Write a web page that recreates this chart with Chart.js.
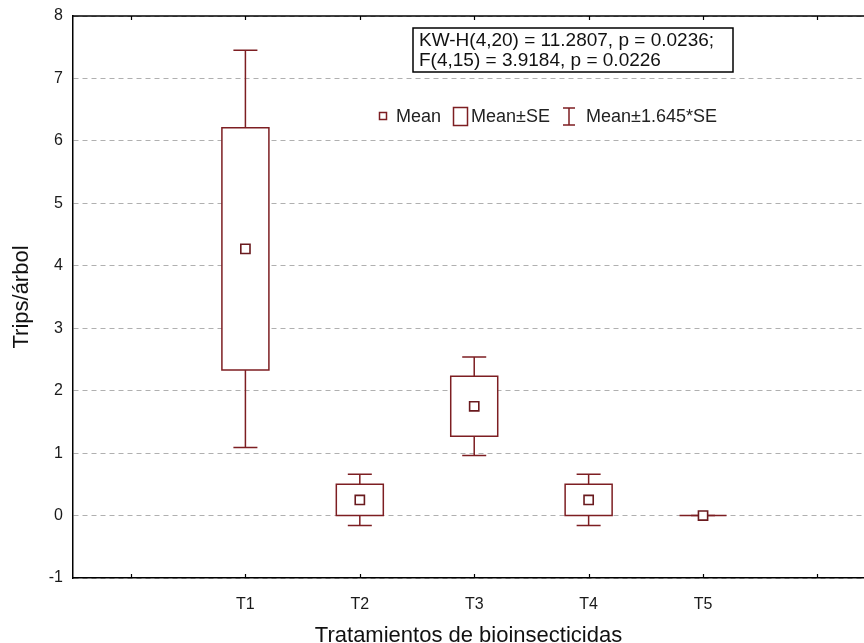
<!DOCTYPE html>
<html><head><meta charset="utf-8">
<script src="https://cdn.jsdelivr.net/npm/chart.js@4.4.1/dist/chart.umd.min.js"></script>
<style>html,body{margin:0;padding:0;background:#fff;}#wrap{width:864px;height:643px;position:relative;}</style>
</head><body>
<div id="wrap"><canvas id="c" width="864" height="643"></canvas></div>
<script>
const categories = ['T1', 'T2', 'T3', 'T4', 'T5'];
const means  = [4.27, 0.25, 1.75, 0.25, 0.00];
const seLow  = [2.33, 0.00, 1.27, 0.00, 0.00];
const seHigh = [6.21, 0.50, 2.23, 0.50, 0.00];
const ciLow  = [1.09, -0.16, 0.96, -0.16, 0.00];
const ciHigh = [7.45, 0.66, 2.54, 0.66, 0.00];
const yTickValues = [-1, 0, 1, 2, 3, 4, 5, 6, 7, 8];
const statsLines = ['KW-H(4,20) = 11.2807, p = 0.0236;', 'F(4,15) = 3.9184, p = 0.0226'];
const legendLabels = ['Mean', 'Mean±SE', 'Mean±1.645*SE'];
const xTitle = 'Tratamientos de bioinsecticidas';
const yTitle = 'Trips/árbol';

const MAROON = '#7d1e22';
const FONT = "'Liberation Sans', Arial, sans-serif";

const boxPlugin = {
  id: 'boxPlugin',
  beforeDatasetsDraw(chart) {
    const ctx = chart.ctx, xs = chart.scales.x, ys = chart.scales.y;
    ctx.save();
    ctx.strokeStyle = MAROON;
    ctx.lineWidth = 1.5;
    categories.forEach((c, i) => {
      const x = xs.getPixelForValue(i + 1);
      const halfBox = 23.5, halfCap = 12;
      const yCL = ys.getPixelForValue(ciLow[i]), yCH = ys.getPixelForValue(ciHigh[i]);
      const ySL = ys.getPixelForValue(seLow[i]), ySH = ys.getPixelForValue(seHigh[i]);
      ctx.beginPath();
      ctx.moveTo(x, yCH); ctx.lineTo(x, ySH);
      ctx.moveTo(x, ySL); ctx.lineTo(x, yCL);
      ctx.moveTo(x - halfCap, yCH); ctx.lineTo(x + halfCap, yCH);
      ctx.moveTo(x - halfCap, yCL); ctx.lineTo(x + halfCap, yCL);
      ctx.stroke();
      ctx.fillStyle = '#fff';
      ctx.fillRect(x - halfBox, ySH, 2 * halfBox, ySL - ySH);
      ctx.beginPath();
      if (ySL - ySH < 0.5) {
        ctx.moveTo(x - halfBox, ySH); ctx.lineTo(x + halfBox, ySH);
      } else {
        ctx.rect(x - halfBox, ySH, 2 * halfBox, ySL - ySH);
      }
      ctx.stroke();
    });
    ctx.restore();
  },
  afterDraw(chart) {
    const ctx = chart.ctx, a = chart.chartArea, xs = chart.scales.x;
    ctx.save();
    ctx.strokeStyle = '#000';
    ctx.lineWidth = 1.5;
    ctx.beginPath();
    ctx.moveTo(a.left, a.top); ctx.lineTo(a.right, a.top);
    ctx.stroke();
    ctx.lineWidth = 1.2;
    ctx.beginPath();
    for (let v = 0; v <= 6; v++) {
      const x = Math.round(xs.getPixelForValue(v)) + 0.5;
      ctx.moveTo(x, a.top); ctx.lineTo(x, a.top + 4);
      ctx.moveTo(x, a.bottom); ctx.lineTo(x, a.bottom - 4);
    }
    ctx.stroke();
    // stats box
    ctx.fillStyle = '#fff';
    ctx.fillRect(413, 28, 320, 44);
    ctx.lineWidth = 1.5;
    ctx.strokeRect(413, 28, 320, 44);
    ctx.fillStyle = '#111';
    ctx.font = '19px ' + FONT;
    ctx.textBaseline = 'middle';
    ctx.textAlign = 'left';
    ctx.fillText(statsLines[0], 419, 41);
    ctx.fillText(statsLines[1], 419, 61);
    // legend
    const ly = 116;
    ctx.strokeStyle = MAROON;
    ctx.lineWidth = 1.5;
    ctx.strokeRect(379.5, ly - 3.5, 7, 7);
    ctx.font = '18px ' + FONT;
    ctx.fillStyle = '#222';
    ctx.fillText(legendLabels[0], 396, ly + 1);
    ctx.strokeRect(453.5, 107.5, 14, 18);
    ctx.fillText(legendLabels[1], 471, ly + 1);
    ctx.beginPath();
    ctx.moveTo(569, 108); ctx.lineTo(569, 125);
    ctx.moveTo(563, 108); ctx.lineTo(575, 108);
    ctx.moveTo(563, 125); ctx.lineTo(575, 125);
    ctx.stroke();
    ctx.fillText(legendLabels[2], 586, ly + 1);
    ctx.restore();
  }
};

new Chart(document.getElementById('c'), {
  type: 'scatter',
  data: {
    datasets: [{
      label: 'Mean',
      data: means.map((m, i) => ({ x: i + 1, y: m })),
      pointStyle: 'rect',
      pointRadius: 6.5,
      pointHoverRadius: 6.5,
      pointBackgroundColor: '#fff',
      pointBorderColor: '#6a1a1e',
      pointBorderWidth: 1.6
    }]
  },
  options: {
    responsive: false,
    animation: false,
    devicePixelRatio: 1,
    layout: { autoPadding: false, padding: { top: 16, right: 0, left: 0, bottom: 0 } },
    plugins: { legend: { display: false }, tooltip: { enabled: false } },
    scales: {
      x: {
        type: 'linear',
        min: -0.507,
        max: 6.407,
        afterFit(s) { s.height = 65; s.paddingLeft = 0; s.paddingRight = 0; },
        afterBuildTicks(s) { s.ticks = categories.map((c, i) => ({ value: i + 1 })); },
        ticks: {
          callback: (v) => categories[Math.round(v) - 1] || '',
          font: { family: FONT, size: 16 },
          color: '#1a1a1a',
          padding: 17,
          maxRotation: 0,
          autoSkip: false
        },
        grid: { display: false, drawTicks: false },
        border: { display: true, color: '#000', width: 1.5 },
        title: {
          display: true,
          text: xTitle,
          font: { family: FONT, size: 22, lineHeight: 1 },
          color: '#111',
          padding: { top: 0, bottom: -4 }
        }
      },
      y: {
        min: -1,
        max: 8,
        afterFit(s) { s.width = 73; s.paddingTop = 0; s.paddingBottom = 0; },
        afterBuildTicks(s) { s.ticks = yTickValues.map(v => ({ value: v })); },
        ticks: {
          font: { family: FONT, size: 16 },
          color: '#1a1a1a',
          padding: 10
        },
        grid: {
          drawTicks: false,
          color: '#b0b0b0',
          lineWidth: 1
        },
        border: { display: true, color: '#000', width: 1.5, dash: [5, 4] },
        title: {
          display: true,
          text: yTitle,
          font: { family: FONT, size: 22, lineHeight: 1 },
          color: '#111',
          padding: { top: 11, bottom: 0 }
        }
      }
    }
  },
  plugins: [boxPlugin]
});
</script>
</body></html>
